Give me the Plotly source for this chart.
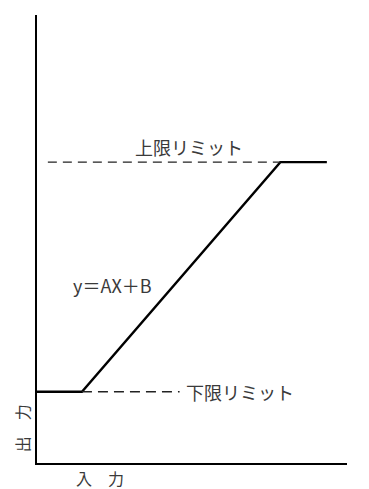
import plotly.graph_objects as go

# 入力 / 出力 characteristic (arbitrary units)
line_x = [0, 1.45, 7.85, 9.35]
line_y = [1.6, 1.6, 6.75, 6.75]

lower_dash_x = [1.45, 4.6]
lower_dash_y = [1.6, 1.6]
upper_dash_x = [0.35, 7.85]
upper_dash_y = [6.75, 6.75]

label_lower = "下限リミット"
label_upper = "上限リミット"
label_eq = "y＝AX＋B"
label_x = "入　力"
label_y = "出　力"

JP = "Noto Sans CJK JP"
TXT = "#3a3a3a"

fig = go.Figure()
fig.add_trace(go.Scatter(x=line_x, y=line_y, mode="lines",
                         line=dict(color="black", width=2.4), hoverinfo="skip"))
fig.add_trace(go.Scatter(x=lower_dash_x, y=lower_dash_y, mode="lines",
                         line=dict(color="#222", width=1.6, dash="10px,6px"), hoverinfo="skip"))
fig.add_trace(go.Scatter(x=upper_dash_x, y=upper_dash_y, mode="lines",
                         line=dict(color="#222", width=1.4, dash="9px,6px"), hoverinfo="skip"))

fig.add_annotation(x=4.75, y=1.6, text=label_lower, showarrow=False,
                   xanchor="left", yanchor="middle", font=dict(family=JP, size=18, color=TXT))
fig.add_annotation(x=4.9, y=6.75, text=label_upper, showarrow=False,
                   xanchor="center", yanchor="bottom", yshift=0,
                   font=dict(family=JP, size=18, color=TXT))
fig.add_annotation(x=1.1, y=4.0, text=label_eq, showarrow=False,
                   xanchor="left", yanchor="middle", font=dict(family=JP, size=18, color=TXT))
fig.add_annotation(xref="paper", yref="paper", x=0.203, y=-0.033, text=label_x,
                   showarrow=False, xanchor="center", yanchor="middle",
                   font=dict(family=JP, size=16, color=TXT))
fig.add_annotation(xref="paper", yref="paper", x=-0.048, y=0.078, text=label_y,
                   showarrow=False, textangle=-90, xanchor="center", yanchor="middle",
                   font=dict(family=JP, size=16, color=TXT))

# page body keeps an 8px default margin, so the figure is 8px smaller
fig.update_layout(
    width=361, height=481,
    margin=dict(l=29, r=22, t=7, b=26, autoexpand=False),
    paper_bgcolor="white", plot_bgcolor="white",
    showlegend=False,
)
fig.update_xaxes(range=[0, 10], showline=True, linecolor="black", linewidth=2,
                 showticklabels=False, ticks="", showgrid=False, zeroline=False,
                 automargin=False)
fig.update_yaxes(range=[0, 10.05], showline=True, linecolor="black", linewidth=2,
                 showticklabels=False, ticks="", showgrid=False, zeroline=False,
                 automargin=False)

fig.write_html("out.html")
